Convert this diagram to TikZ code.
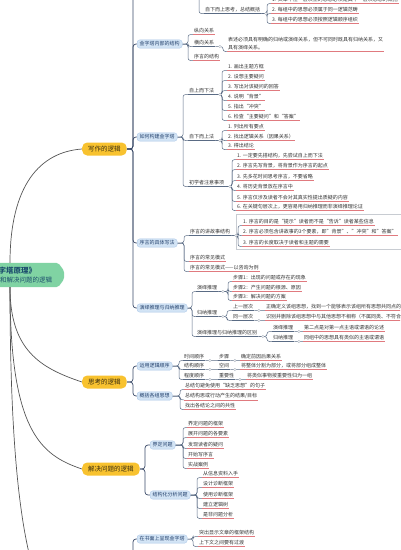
\documentclass[tikz,border=0pt]{standalone}
\usepackage{fontspec}
\setmainfont{Noto Sans CJK SC}
\usetikzlibrary{calc,backgrounds,fit}
\definecolor{rootfill}{HTML}{80D3A3}
\definecolor{roottext}{HTML}{1D4E6E}
\definecolor{mainfill}{HTML}{F8C22F}
\definecolor{maintext}{HTML}{3A2E10}
\definecolor{boxfill}{HTML}{D3E4F5}
\definecolor{boxline}{HTML}{A9C5E6}
\definecolor{boxtext}{HTML}{22406C}
\definecolor{conncol}{HTML}{5A6B84}
\definecolor{spinecol}{HTML}{3A4A68}
\definecolor{ulcol}{HTML}{E07A7F}
\definecolor{leaftext}{HTML}{333333}
\definecolor{rootline}{HTML}{555555}
\definecolor{mkcol}{HTML}{A8B0BC}
\definecolor{bdcol}{HTML}{C8CCD2}
\tikzset{
 leaf/.style={anchor=west, font=\fontsize{5}{6}\selectfont, text=leaftext, inner xsep=1pt, inner ysep=1pt},
 mid/.style={leaf},
 topicbox/.style={anchor=west, font=\fontsize{5}{6}\selectfont, text=boxtext, fill=boxfill, draw=boxline, line width=0.3pt, rounded corners=2.5pt, inner xsep=2.5pt, inner ysep=1.8pt},
 mainbox/.style={anchor=west, font=\fontsize{6.5}{8}\selectfont, text=maintext, fill=mainfill, rounded corners=5pt, inner xsep=6pt, minimum height=13pt},
 rootnode/.style={font=\fontsize{6.5}{9}\selectfont, text=roottext, align=center, minimum width=108pt, minimum height=24pt, inner sep=0pt},
 conn/.style={draw=conncol, line width=0.5pt, rounded corners=2.5pt},
 spineline/.style={draw=spinecol, line width=0.7pt, rounded corners=3pt},
 ul/.style={draw=ulcol, line width=0.5pt},
 ulmid/.style={draw=conncol, line width=0.5pt},
 mk/.style={draw=mkcol, fill=white, line width=0.3pt},
 rootcurve/.style={draw=rootline, line width=0.7pt},
 boundary/.style={draw=bdcol, line width=0.4pt, inner sep=0pt},
}
\newcommand\mspine[4][conn]{\foreach \ch in {#4}{\draw[#1] (#2) -- (#3,0 |- #2) |- (\ch);}}
\begin{document}
\begin{tikzpicture}[x=1pt,y=-1pt]
\useasboundingbox (0,0) rectangle (400,550);
\clip (0,0) rectangle (400,550);

% root and main branches
\node[rootnode] (root) at (10,275) {{\fontsize{7.5}{9}\selectfont\bfseries 《金字塔原理》}\\思考、写作和解决问题的逻辑};
\node[mainbox] (w) at (82,149) {写作的逻辑};
\node[mainbox] (th) at (82,382) {思考的逻辑};
\node[mainbox] (so) at (82,469) {解决问题的逻辑};
\coordinate (dem) at (82,640);
\coordinate (wtop) at (137,-20);
\coordinate (ptop) at (199,-20);
\coordinate (dpar) at (133,600);

% top block
\node[mid] (zx) at (204,10) {自下而上思考，总结概括};
\node[leaf] (t1) at (271,0) {1. 文章中任一层次上的思想必须是其下一层次思想的概括};
\node[leaf] (t2) at (271,10) {2. 每组中的思想必须属于同一逻辑范畴};
\node[leaf] (t3) at (271,20) {3. 每组中的思想必须按照逻辑顺序组织};

% 金字塔内部的结构
\node[topicbox] (jg) at (137,44) {金字塔内部的结构};
\node[leaf] (zx1) at (193,31) {纵向关系};
\node[mid] (hx) at (193,43) {横向关系};
\node[leaf] (xj) at (193,57) {序言的结构};
\node[leaf, align=left, font=\fontsize{5}{8}\selectfont] (hxl) at (227,44) {表述必须具有明确的归纳或演绎关系，但不可同时既具有归纳关系，又\\具有演绎关系。};

% 如何构建金字塔
\node[topicbox] (rg) at (137,137) {如何构建金字塔};
\node[mid] (zs) at (188,91) {自上而下法};
\node[mid] (zxf) at (188,137) {自下而上法};
\node[mid] (cx) at (188,183) {初学者注意事项};
\node[leaf] (a1) at (227,67) {1. 画出主题方框};
\node[leaf] (a2) at (227,77) {2. 设想主要疑问};
\node[leaf] (a3) at (227,87) {3. 写出对该疑问的回答};
\node[leaf] (a4) at (227,97) {4. 说明“背景”};
\node[leaf] (a5) at (227,107) {5. 指出“冲突”};
\node[leaf] (a6) at (227,117) {6. 检查“主要疑问”和“答案”};
\node[leaf] (b1) at (227,127) {1. 列出所有要点};
\node[leaf] (b2) at (227,137) {2. 找出逻辑关系（因果关系）};
\node[leaf] (b3) at (227,146) {3. 得出结论};
\node[leaf] (c1) at (236,156) {1. 一定要先搭结构，先尝试自上而下法};
\node[leaf] (c2) at (236,166) {2. 序言先写背景，将背景作为序言的起点};
\node[leaf] (c3) at (236,177) {3. 先多花时间思考序言，不要省略};
\node[leaf] (c4) at (236,187) {4. 将历史背景放在序言中};
\node[leaf] (c5) at (236,198) {5. 序言仅涉及读者不会对其真实性提出质疑的内容};
\node[leaf] (c6) at (236,207) {6. 在关键句层次上，更容易用归纳推理而非演绎推理论证};

% 序言的具体写法
\node[topicbox] (xy) at (137,243) {序言的具体写法};
\node[mid] (d1) at (189,232) {序言的讲故事结构};
\node[leaf] (d2) at (189,258) {序言的常见模式};
\node[leaf] (d3) at (189,268) {序言的常见模式——以咨询为例};
\node[leaf] (s1) at (242,222) {1. 序言的目的是“提示”读者而不是“告诉”读者某些信息};
\node[leaf] (s2) at (242,232) {2. 序言必须包含讲故事的3个要素，即"背景"、"冲突"和"答案"};
\node[leaf] (s3) at (242,243) {3. 序言的长度取决于读者和主题的需要};

% 演绎推理与归纳推理
\node[topicbox] (yg) at (137,308) {演绎推理与归纳推理};
\node[mid] (e1) at (196,288) {演绎推理};
\node[mid] (e2) at (196,313) {归纳推理};
\node[mid] (e3) at (196,333) {演绎推理与归纳推理的区别};
\node[leaf] (f1) at (232,278) {步骤1：出现的问题或存在的现象};
\node[leaf] (f2) at (232,288) {步骤2：产生问题的根源、原因};
\node[leaf] (f3) at (232,297) {步骤3：解决问题的方案};
\node[mid] (g1) at (232,307) {上一层次};
\node[mid] (g2) at (232,317) {同一层次};
\node[leaf] (g1l) at (265,307) {正确定义该组思想，找到一个能够表示该组所有思想共同点的名词};
\node[leaf] (g2l) at (265,317) {识别并删除该组思想中与其他思想不相称（不属同类、不符合逻辑顺序）的思想};
\node[mid] (h1) at (272,328) {演绎推理};
\node[mid] (h2) at (272,338) {归纳推理};
\node[leaf] (h1l) at (303,328) {第二点是对第一点主语或谓语的论述};
\node[leaf] (h2l) at (303,338) {同组中的思想具有类似的主语或谓语};

% 思考的逻辑
\node[topicbox] (k1) at (137,366) {运用逻辑顺序};
\node[topicbox] (k2) at (137,396) {概括各组思想};
\node[mid] (l1) at (183,357) {时间顺序};
\node[mid] (l2) at (183,366) {结构顺序};
\node[mid] (l3) at (183,376) {程度顺序};
\node[mid] (l1m) at (218,357) {步骤};
\node[mid] (l2m) at (218,366) {空间};
\node[mid] (l3m) at (218,376) {重要性};
\node[leaf] (l1l) at (240,357) {确定前因后果关系};
\node[leaf] (l2l) at (240,366) {将整体分割为部分，或将部分组成整体};
\node[leaf] (l3l) at (246,376) {将类似事物按重要性归为一组};
\node[leaf] (m1) at (184,386) {总结句避免使用“缺乏思想”的句子};
\node[leaf] (m2) at (184,396) {总结构思或行动产生的结果/目标};
\node[leaf] (m3) at (184,406) {找出各结论之间的共性};

% 解决问题的逻辑
\node[topicbox] (n1) at (150,445) {界定问题};
\node[topicbox] (n2) at (150,495) {结构化分析问题};
\node[leaf] (o1) at (187,424) {界定问题的框架};
\node[leaf] (o2) at (187,434) {展开问题的各要素};
\node[leaf] (o3) at (187,445) {发现读者的疑问};
\node[leaf] (o4) at (187,455) {开始写序言};
\node[leaf] (o5) at (187,465) {实战案例};
\node[leaf] (p1) at (202,474) {从信息资料入手};
\node[leaf] (p2) at (202,484) {设计诊断框架};
\node[leaf] (p3) at (202,495) {使用诊断框架};
\node[leaf] (p4) at (202,505) {建立逻辑树};
\node[leaf] (p5) at (202,515) {是非问题分析};

% 演示
\node[topicbox] (q) at (137,539) {在书面上呈现金字塔};
\node[leaf] (r1) at (198,533) {突出显示文章的框架结构};
\node[leaf] (r2) at (198,543) {上下文之间要有过渡};

% underlines
\foreach \n in {t1,t2,t3,zx1,xj,hxl,a1,a2,a3,a4,a5,a6,b1,b2,b3,c1,c2,c3,c4,c5,c6,s1,s2,s3,d2,d3,f1,f2,f3,g1l,g2l,h1l,h2l,l1l,l2l,l3l,m1,m2,m3,o1,o2,o3,o4,o5,p1,p2,p3,p4,p5,r1,r2}
  \draw[ul] (\n.south west) -- (\n.south east);
\foreach \n in {zx,hx,zs,zxf,cx,d1,e1,e2,e3,g1,g2,h1,h2,l1,l2,l3,l1m,l2m,l3m}
  \draw[ulmid] (\n.south west) -- (\n.south east);

\begin{scope}[on background layer]
\fill[rootfill, rounded corners=2pt] (root.north west) -- ($(root.north east)+(-6,0)$) -- ($(root.east)+(0,-4)$) -- ($(root.east)+(0,4)$) -- ($(root.south east)+(-6,0)$) -- (root.south west) -- cycle;
\draw[rootcurve] (root.north) .. controls (10,185) and (40,152) .. (w.west);
\draw[rootcurve] (root.south) .. controls (10,350) and (40,368) .. (th.west);
\draw[rootcurve] (root.south) .. controls (10,430) and (40,455) .. (so.west);
\draw[rootcurve] (root.south) .. controls (10,560) and (40,620) .. (dem);
\node[boundary, fit={(236,214) (402,249)}] (bd) {};
% main spines
\mspine[spineline]{w.east}{133}{wtop,jg.west,rg.west,xy.west,yg.west}
\mspine[spineline]{th.east}{133}{k1.west,k2.west}
\mspine[spineline]{so.east}{145}{n1.west,n2.west}
\draw[spineline] (dpar) |- (q.west);
% sub spines
\draw[conn] (ptop) |- (zx.south west);
\mspine{zx.south east}{267}{t1.south west,t2.south west,t3.south west}
\mspine{jg.east}{188}{zx1.south west,hx.south west,xj.south west}
\mspine{hx.south east}{223}{hxl.south west}
\mspine{rg.east}{183}{zs.south west,zxf.south west,cx.south west}
\mspine{zs.south east}{222}{a1.south west,a2.south west,a3.south west,a4.south west,a5.south west,a6.south west}
\mspine{zxf.south east}{222}{b1.south west,b2.south west,b3.south west}
\mspine{cx.south east}{232}{c1.south west,c2.south west,c3.south west,c4.south west,c5.south west,c6.south west}
\mspine{xy.east}{184}{d1.south west,d2.south west,d3.south west}
\mspine{d1.south east}{238}{s1.south west,s2.south west,s3.south west}
\mspine{yg.east}{192}{e1.south west,e2.south west,e3.south west}
\mspine{e1.south east}{228}{f1.south west,f2.south west,f3.south west}
\mspine{e2.south east}{227}{g1.south west,g2.south west}
\mspine{e3.south east}{267}{h1.south west,h2.south west}
\draw[conn] (g1.south east) -- (g1l.south west);
\draw[conn] (g2.south east) -- (g2l.south west);
\draw[conn] (h1.south east) -- (h1l.south west);
\draw[conn] (h2.south east) -- (h2l.south west);
\mspine{k1.east}{179}{l1.south west,l2.south west,l3.south west}
\draw[conn] (l1.south east) -- (l1m.south west);
\draw[conn] (l2.south east) -- (l2m.south west);
\draw[conn] (l3.south east) -- (l3m.south west);
\draw[conn] (l1m.south east) -- (l1l.south west);
\draw[conn] (l2m.south east) -- (l2l.south west);
\draw[conn] (l3m.south east) -- (l3l.south west);
\mspine{k2.east}{180}{m1.south west,m2.south west,m3.south west}
\mspine{n1.east}{183}{o1.south west,o2.south west,o3.south west,o4.south west,o5.south west}
\mspine{n2.east}{197}{p1.south west,p2.south west,p3.south west,p4.south west,p5.south west}
\mspine{q.east}{193}{r1.south west,r2.south west}
% collapse markers
\foreach \n in {zx,hx,zs,zxf,cx,d1,e1,e2,e3,g1,g2,h1,h2,l1,l2,l3,l1m,l2m,l3m}
  \filldraw[mk] ($(\n.south east)+(4.5,0)$) circle (1.3pt);
\end{scope}
\end{tikzpicture}
\end{document}
